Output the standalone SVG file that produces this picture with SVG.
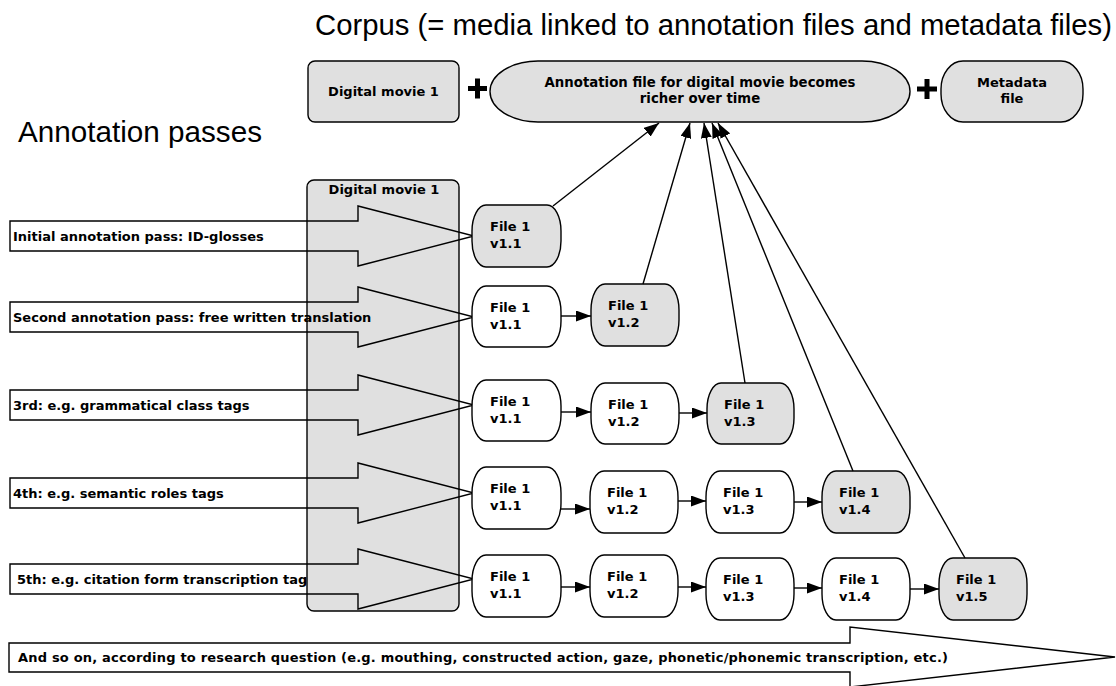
<svg xmlns="http://www.w3.org/2000/svg" width="1116" height="686" viewBox="0 0 1116 686">
<defs>
<style>
.title{font-family:"Liberation Sans",Arial,Helvetica,sans-serif;font-size:29px;fill:#000}
.t{font-family:"DejaVu Sans",Verdana,sans-serif;font-weight:bold;font-size:13px;fill:#000}
.big{font-size:13.3px}
.c{text-anchor:middle}
.gray{fill:#e0e0e0;stroke:#000;stroke-width:1.4}
.white{fill:#fff;stroke:#000;stroke-width:1.4}
.blk{fill:none;stroke:#000;stroke-width:1.4}
.ln{stroke:#000;stroke-width:1.4;fill:none}
.plus{stroke:#000;stroke-width:5;fill:none}
</style>
<marker id="ah" markerUnits="userSpaceOnUse" markerWidth="15" markerHeight="11" viewBox="0 0 15 11" refX="15" refY="5.5" orient="auto">
<path d="M0,0 L15,5.5 L0,11 Z" fill="#000"/>
</marker>
<marker id="as" markerUnits="userSpaceOnUse" markerWidth="15" markerHeight="11" viewBox="0 0 15 11" refX="15" refY="5.5" orient="auto">
<path d="M0,0 L15,5.5 L0,11 Z" fill="#000"/>
</marker>
</defs>
<rect width="1116" height="686" fill="#fff"/>

<text class="title" x="315" y="35" textLength="797" lengthAdjust="spacingAndGlyphs">Corpus (= media linked to annotation files and metadata files)</text>
<text class="title" x="18" y="142" textLength="244" lengthAdjust="spacingAndGlyphs">Annotation passes</text>

<g id="top-movie">
<rect class="gray" x="308" y="61" width="151" height="61" rx="7" ry="7"/>
<text class="t c" x="383.5" y="96">Digital movie 1</text>
</g>
<g id="plus1"><path class="plus" d="M468,88.5 H487 M477.5,78.5 V98.5"/></g>
<g id="annotation-file">
<rect class="gray" x="490" y="61" width="420" height="61" rx="48" ry="30.5"/>
<text class="t big c" x="700" y="87">Annotation file for digital movie becomes</text>
<text class="t big c" x="700" y="103">richer over time</text>
</g>
<g id="plus2"><path class="plus" d="M917,89 H937 M927,79 V99"/></g>
<g id="metadata">
<rect class="gray" x="941" y="61" width="142" height="61" rx="22" ry="28"/>
<text class="t c" x="1012" y="87">Metadata</text>
<text class="t c" x="1012" y="103">file</text>
</g>

<g id="movie-column">
<rect class="gray" x="307" y="180" width="152" height="431" rx="7" ry="7"/>
<text class="t c" x="384" y="194">Digital movie 1</text>
</g>

<g id="pass1">
<path class="blk" d="M10,221 H358 V206 L474,236 L358,266 V251 H10 Z"/>
<text class="t" x="13" y="240.5">Initial annotation pass: ID-glosses</text>
</g>
<g id="pass2">
<path class="blk" d="M10,302 H358 V287 L474,317 L358,347 V332 H10 Z"/>
<text class="t" x="13" y="321.5">Second annotation pass: free written translation</text>
</g>
<g id="pass3">
<path class="blk" d="M10,390 H358 V375 L474,405 L358,435 V420 H10 Z"/>
<text class="t" x="13" y="409.5">3rd: e.g. grammatical class tags</text>
</g>
<g id="pass4">
<path class="blk" d="M10,478 H358 V463 L474,493 L358,523 V508 H10 Z"/>
<text class="t" x="13" y="497.5">4th: e.g. semantic roles tags</text>
</g>
<g id="pass5">
<path class="blk" d="M10,564 H358 V549 L474,579 L358,609 V594 H10 Z"/>
<text class="t" x="17" y="583.5">5th: e.g. citation form transcription tag</text>
</g>
<g id="and-so-on">
<path class="blk" d="M9,643 H850 V627 L1115,657 L850,687 V672 H9 Z"/>
<text class="t" x="18" y="662" textLength="930" lengthAdjust="spacing">And so on, according to research question (e.g. mouthing, constructed action, gaze, phonetic/phonemic transcription, etc.)</text>
</g>

<g id="r1-v11"><rect class="gray" x="472" y="205" width="89" height="62" rx="14" ry="26"/><text class="t" x="490" y="231">File 1</text><text class="t" x="490" y="248">v1.1</text></g>

<g id="r2-v11"><rect class="white" x="472" y="286" width="89" height="61" rx="14" ry="26"/><text class="t" x="490" y="312">File 1</text><text class="t" x="490" y="329">v1.1</text></g>
<g id="r2-v12"><rect class="gray" x="591" y="284" width="88" height="62" rx="14" ry="26"/><text class="t" x="608" y="310">File 1</text><text class="t" x="608" y="327">v1.2</text></g>

<g id="r3-v11"><rect class="white" x="472" y="380" width="89" height="61" rx="14" ry="26"/><text class="t" x="490" y="406">File 1</text><text class="t" x="490" y="423">v1.1</text></g>
<g id="r3-v12"><rect class="white" x="591" y="383" width="88" height="61" rx="14" ry="26"/><text class="t" x="608" y="409">File 1</text><text class="t" x="608" y="426">v1.2</text></g>
<g id="r3-v13"><rect class="gray" x="707" y="383" width="87" height="61" rx="14" ry="26"/><text class="t" x="724" y="409">File 1</text><text class="t" x="724" y="426">v1.3</text></g>

<g id="r4-v11"><rect class="white" x="472" y="467" width="89" height="62" rx="14" ry="26"/><text class="t" x="490" y="493">File 1</text><text class="t" x="490" y="510">v1.1</text></g>
<g id="r4-v12"><rect class="white" x="590" y="471" width="88" height="62" rx="14" ry="26"/><text class="t" x="607" y="497">File 1</text><text class="t" x="607" y="514">v1.2</text></g>
<g id="r4-v13"><rect class="white" x="706" y="471" width="88" height="62" rx="14" ry="26"/><text class="t" x="723" y="497">File 1</text><text class="t" x="723" y="514">v1.3</text></g>
<g id="r4-v14"><rect class="gray" x="822" y="471" width="88" height="62" rx="14" ry="26"/><text class="t" x="839" y="497">File 1</text><text class="t" x="839" y="514">v1.4</text></g>

<g id="r5-v11"><rect class="white" x="472" y="555" width="89" height="62" rx="14" ry="26"/><text class="t" x="490" y="581">File 1</text><text class="t" x="490" y="598">v1.1</text></g>
<g id="r5-v12"><rect class="white" x="590" y="555" width="88" height="62" rx="14" ry="26"/><text class="t" x="607" y="581">File 1</text><text class="t" x="607" y="598">v1.2</text></g>
<g id="r5-v13"><rect class="white" x="706" y="558" width="88" height="62" rx="14" ry="26"/><text class="t" x="723" y="584">File 1</text><text class="t" x="723" y="601">v1.3</text></g>
<g id="r5-v14"><rect class="white" x="822" y="558" width="88" height="62" rx="14" ry="26"/><text class="t" x="839" y="584">File 1</text><text class="t" x="839" y="601">v1.4</text></g>
<g id="r5-v15"><rect class="gray" x="939" y="558" width="88" height="62" rx="14" ry="26"/><text class="t" x="956" y="584">File 1</text><text class="t" x="956" y="601">v1.5</text></g>

<g id="connectors">
<line class="ln" x1="561" y1="316" x2="591" y2="316" marker-end="url(#as)"/>
<line class="ln" x1="561" y1="412" x2="591" y2="412" marker-end="url(#as)"/>
<line class="ln" x1="679" y1="413" x2="707" y2="413" marker-end="url(#as)"/>
<line class="ln" x1="561" y1="509" x2="590" y2="509" marker-end="url(#as)"/>
<line class="ln" x1="678" y1="501" x2="706" y2="501" marker-end="url(#as)"/>
<line class="ln" x1="794" y1="502" x2="822" y2="502" marker-end="url(#as)"/>
<line class="ln" x1="561" y1="587" x2="590" y2="587" marker-end="url(#as)"/>
<line class="ln" x1="678" y1="587" x2="706" y2="587" marker-end="url(#as)"/>
<line class="ln" x1="794" y1="588" x2="822" y2="588" marker-end="url(#as)"/>
<line class="ln" x1="910" y1="589" x2="939" y2="589" marker-end="url(#as)"/>
<line class="ln" x1="553" y1="206" x2="659" y2="123" marker-end="url(#ah)"/>
<line class="ln" x1="643" y1="284" x2="690" y2="123" marker-end="url(#ah)"/>
<line class="ln" x1="745" y1="383" x2="704" y2="123" marker-end="url(#ah)"/>
<line class="ln" x1="853" y1="471" x2="712" y2="123" marker-end="url(#ah)"/>
<line class="ln" x1="965" y1="558" x2="718" y2="123" marker-end="url(#ah)"/>
</g>
</svg>
